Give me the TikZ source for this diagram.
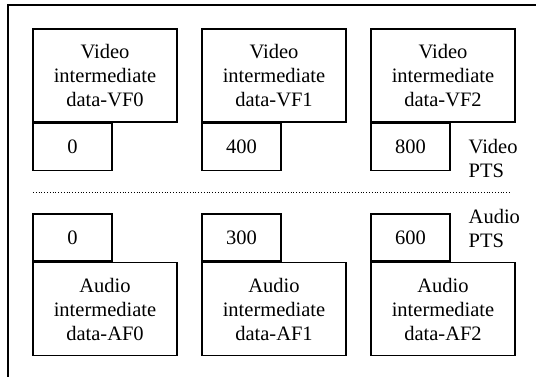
\documentclass[tikz,border=0pt]{standalone}
\usepackage{fontspec}
\setmainfont{Liberation Serif}
\usetikzlibrary{positioning}
\begin{document}
\begin{tikzpicture}[x=1pt,y=-1pt,line width=1.4pt,font=\fontsize{20.5}{24}\selectfont]
    \tikzstyle{frame}=[draw,rectangle,minimum width=144pt,minimum height=93pt,inner sep=0pt,align=center]
    \tikzstyle{pts}=[draw,rectangle,minimum width=79pt,minimum height=47pt,inner sep=0pt]
    \useasboundingbox (0,0) rectangle (536,376);
    \draw[line width=1.1pt] (8,380) -- (8,5) -- (540,5);

    \foreach \i/\x/\v/\a in {0/105/0/0,1/274/400/300,2/443/800/600} {
    \node[frame] (V-\i) at (\x,75.5) {Video\\intermediate\\data-VF\i};
    \node[pts,anchor=north west] (VP-\i) at (V-\i.south west) {\v};
    \node[frame] (A-\i) at (\x,309) {Audio\\intermediate\\data-AF\i};
    \node[pts,anchor=south west] (AP-\i) at (A-\i.north west) {\a};
    }

    \draw[dotted,line width=0.8pt] (33,192) -- (511,192);
    \node[anchor=west,align=left,inner sep=0pt] (vpts) at (468,158) {Video\\PTS};
    \node[anchor=west,align=left,inner sep=0pt] (apts) at (468,228) {Audio\\PTS};
  \end{tikzpicture}
\end{document}
